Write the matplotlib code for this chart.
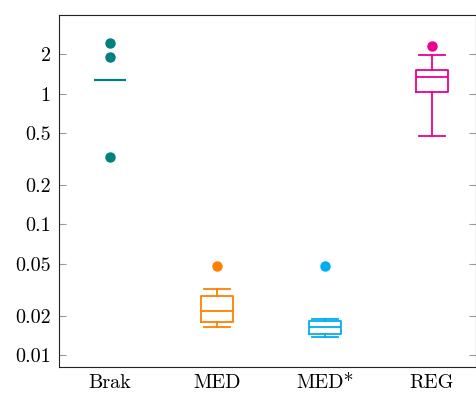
import matplotlib.pyplot as plt
from matplotlib.ticker import FixedLocator, FixedFormatter, NullLocator

plt.rcParams['font.family'] = 'cmr10'
plt.rcParams['axes.formatter.use_mathtext'] = True

# Box statistics (log scale)
categories = ["Brak", "MED", "MED*", "REG"]
whisker_low = [1.28, 0.0163, 0.0137, 0.471]
box_low = [1.28, 0.0178, 0.0145, 1.035]
medians = [1.28, 0.0218, 0.0165, 1.33]
box_high = [1.28, 0.0285, 0.0182, 1.51]
whisker_high = [1.28, 0.0321, 0.0190, 1.99]
outliers = [[2.45, 1.90, 0.329], [0.048], [0.048], [2.30]]
colors = ["#008080", "#ff8000", "#00aeef", "#ec008c"]

ytick_vals = [0.01, 0.02, 0.05, 0.1, 0.2, 0.5, 1, 2]
ytick_labels = ["0.01", "0.02", "0.05", "0.1", "0.2", "0.5", "1", "2"]

fig = plt.figure(figsize=(4.77, 3.94), dpi=100)
ax = fig.add_axes([59 / 477, 27 / 394, 417 / 477, 352 / 394])

for i, name in enumerate(categories):
    stats = [{
        "label": name,
        "whislo": whisker_low[i],
        "q1": box_low[i],
        "med": medians[i],
        "q3": box_high[i],
        "whishi": whisker_high[i],
        "fliers": outliers[i],
    }]
    c = colors[i]
    # Brak has collapsed box -> only the median line shows
    collapsed = box_low[i] == box_high[i]
    ax.bxp(stats, positions=[i + 1], widths=0.30, showcaps=not collapsed,
           boxprops=dict(color=c, linewidth=1.3, alpha=0 if collapsed else 1),
           whiskerprops=dict(color=c, linewidth=1.3, alpha=0 if collapsed else 1),
           capprops=dict(color=c, linewidth=1.3),
           medianprops=dict(color=c, linewidth=1.6 if collapsed else 1.3),
           flierprops=dict(marker="o", markerfacecolor=c, markeredgecolor=c, markersize=6.5),
           capwidths=0.24)

ax.set_yscale("log")
ax.set_ylim(0.0081, 4.0)
ax.set_xlim(0.525, 4.41)
ax.yaxis.set_major_locator(FixedLocator(ytick_vals))
ax.yaxis.set_major_formatter(FixedFormatter(ytick_labels))
ax.yaxis.set_minor_locator(NullLocator())
ax.set_xticks(range(1, 5))
ax.set_xticklabels(categories)

ax.tick_params(axis="y", which="major", direction="in", left=True, right=True,
               length=5, color="#999999", labelsize=14.5, pad=6)
ax.tick_params(axis="x", length=0, labelsize=14.5, pad=5)
for sp in ax.spines.values():
    sp.set_linewidth(0.8)
    sp.set_color("#222222")

fig.savefig("out.png", dpi=100)
